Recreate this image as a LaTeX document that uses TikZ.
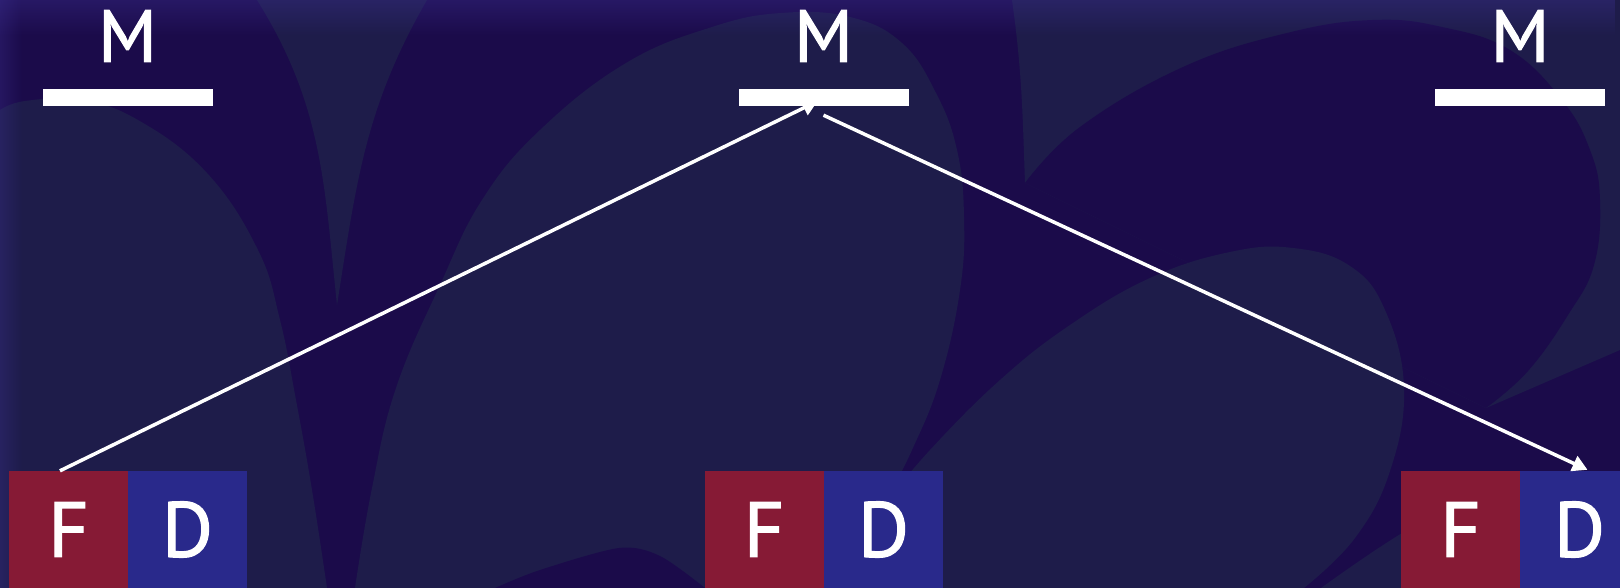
\documentclass[tikz,border=0pt]{standalone}
\usepackage{fontspec}
\setmainfont{PT Sans}
\newfontfamily\handfont[FakeBold=1.5]{PT Sans}
\usetikzlibrary{arrows.meta,fadings}
\definecolor{bgpurple}{RGB}{27,11,74}
\definecolor{bgnavy}{RGB}{30,28,74}
\definecolor{fred}{RGB}{134,26,53}
\definecolor{dblue}{RGB}{41,41,139}
\definecolor{glow}{RGB}{62,50,150}
\tikzfading[name=fadedown, top color=transparent!0, bottom color=transparent!100]
\tikzfading[name=faderight, left color=transparent!0, right color=transparent!100]
\begin{document}
\begin{tikzpicture}[x=1pt,y=-1pt,
  mlabel/.style={text=white, inner sep=0pt, font=\handfont\fontsize{74}{74}\selectfont},
  bar/.style={fill=white, minimum width=170pt, minimum height=17pt, inner sep=0pt},
  fbox/.style={fill=fred, minimum width=119pt, minimum height=117pt, inner sep=0pt, text=white, font=\handfont\fontsize{78}{78}\selectfont},
  dbox/.style={fbox, fill=dblue},
  arr/.style={white, line width=3.5pt, -{Triangle[length=15pt,width=16pt]}}]
\useasboundingbox (0,0) rectangle (1620,588);
\clip (0,0) rectangle (1620,588);
% background
\fill[bgpurple] (0,0) rectangle (1620,588);
\fill[bgnavy] (1012,0) -- (1620,0) -- (1620,350) -- (1486,408) -- (1025,183) to[out=92,in=-82] (1012,0) -- cycle;
\fill[bgpurple] plot[smooth, tension=0.7] coordinates {(1025,183) (1080,127) (1183,67) (1287,33) (1373,20) (1442,27) (1510,50) (1562,100) (1590,150) (1600,200) (1594,265) (1568,315) (1528,371) (1486,408)} -- cycle;
\fill[bgnavy] plot[smooth, tension=0.7] coordinates {(0,110) (25,101) (80,100) (138,120) (207,173) (258,250) (280,320) (296,400) (312,490) (327,588)} -- (0,588) -- cycle;
\fill[bgnavy] (257,0) to[out=-58,in=96] (337,305) to[out=81,in=-120] (427,0) -- cycle;
\fill[bgnavy] plot[smooth, tension=0.7] coordinates {(355,588) (372,488) (396,388) (440,285) (482,200) (540,130) (626,63) (712,27) (781,13) (850,17) (902,43) (936,93) (957,150) (964,217) (960,290) (940,380) (912,450) (884,505)} -- plot[smooth, tension=0.7] coordinates {(884,505) (930,450) (1000,380) (1070,325) (1150,278) (1230,252) (1293,248) (1350,266) (1385,310) (1404,388) (1390,471) (1355,538) (1304,588)} -- cycle;
\fill[bgpurple] plot[smooth] coordinates {(495,588) (540,570) (619,548) (660,556) (705,588)} -- cycle;
\fill[bgnavy] plot[smooth] coordinates {(1321,588) (1424,521) (1528,495) (1620,505)} -- (1620,588) -- cycle;
\fill[glow, opacity=0.35, path fading=fadedown] (0,0) rectangle (1620,36);
\fill[glow, opacity=0.3, path fading=faderight] (0,0) rectangle (22,588);
% labels and bars
\node[mlabel] (m1) at (127.5,36) {M};
\node[mlabel] (m2) at (823.5,36) {M};
\node[mlabel] (m3) at (1520,36) {M};
\node[bar] (bar1) at (127.5,97.5) {};
\node[bar] (bar2) at (823.5,97.5) {};
\node[bar] (bar3) at (1520,97.5) {};
% boxes
\node[fbox] (f1) at (68.5,529.5) {F};
\node[dbox] (d1) at (187.5,529.5) {D};
\node[fbox] (f2) at (764,529.5) {F};
\node[dbox] (d2) at (883.5,529.5) {D};
\node[fbox] (f3) at (1460.5,529.5) {F};
\node[dbox] (d3) at (1579.5,529.5) {D};
% connectors
\draw[arr] ([xshift=-8.5pt]f1.north) -- ([xshift=-6pt,yshift=5pt]bar2.south);
\draw[arr] ([yshift=-9pt]bar2.south) -- ([xshift=8pt,yshift=1pt]d3.north);
\end{tikzpicture}
\end{document}
